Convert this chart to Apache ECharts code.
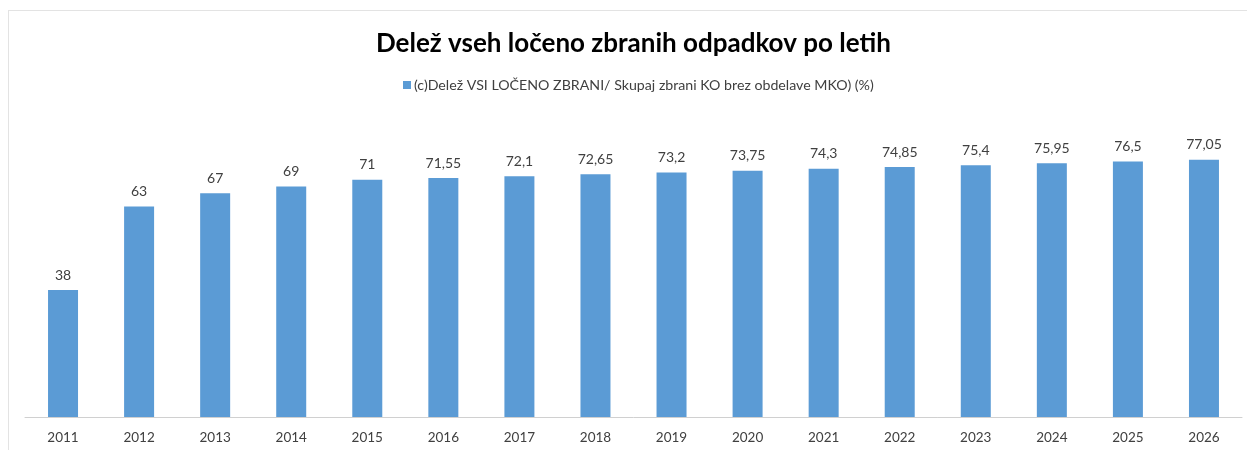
<!DOCTYPE html>
<html>
<head>
<meta charset="utf-8">
<script src="https://cdn.jsdelivr.net/npm/echarts@6/dist/echarts.min.js"></script>
<style>
  html, body { margin: 0; padding: 0; background: #fff; }
  #frame { position: absolute; left: 8px; top: 10px; width: 1245px; height: 450px; border: 1px solid #e3e3e3; box-sizing: border-box; }
  #chart { position: absolute; left: 0; top: 0; width: 1247px; height: 450px; }
</style>
</head>
<body>
<div id="frame"></div>
<div id="chart"></div>
<script>
var years = ['2011', '2012', '2013', '2014', '2015', '2016', '2017', '2018',
  '2019', '2020', '2021', '2022', '2023', '2024', '2025', '2026']
var shares = [38, 63, 67, 69, 71, 71.55, 72.1, 72.65, 73.2, 73.75, 74.3, 74.85, 75.4, 75.95, 76.5, 77.05]
var seriesName = '(c)Delež VSI LOČENO ZBRANI/ Skupaj zbrani KO brez obdelave MKO) (%)'

var chart = echarts.init(document.getElementById('chart'))
chart.setOption({
  animation: false,
  textStyle: { fontFamily: 'Lato' },
  title: {
    text: 'Delež vseh ločeno zbranih odpadkov po letih',
    left: 371,
    top: 26,
    textStyle: { fontFamily: 'Lato', fontWeight: 'bold', fontSize: 26, color: '#000' }
  },
  legend: {
    top: 73,
    left: 398,
    itemWidth: 8,
    itemHeight: 8,
    itemGap: 4,
    data: [{ name: seriesName, icon: 'rect' }],
    textStyle: { fontSize: 14.2, color: '#404040', padding: [0, 0, 0, -2] }
  },
  grid: {
    left: 25,
    right: 5,
    top: 83,
    bottom: 33
  },
  xAxis: {
    type: 'category',
    data: years,
    axisTick: { show: false },
    axisLine: { lineStyle: { color: '#d0d0d0' }},
    axisLabel: { color: '#404040', fontSize: 13.5, margin: 14 }
  },
  yAxis: {
    type: 'value',
    min: 0,
    max: 100,
    show: false,
    splitLine: { show: false }
  },
  series: [
    {
      name: seriesName,
      type: 'bar',
      barWidth: 30,
      data: shares,
      itemStyle: { color: '#5b9bd5' },
      label: {
        show: true,
        position: 'top',
        distance: 8,
        color: '#404040',
        fontSize: 14,
        formatter: function(p) {
          return String(p.value).replace('.', ',')
        }
      }
    }
  ]
})
</script>
</body>
</html>
